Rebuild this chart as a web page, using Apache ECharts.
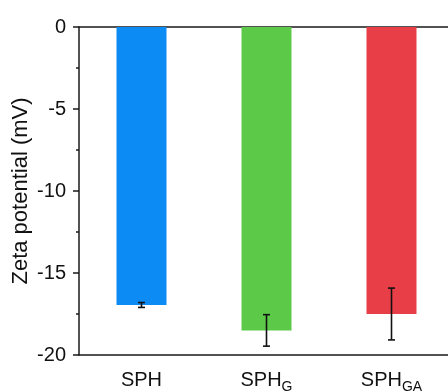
<!DOCTYPE html>
<html>
<head>
<meta charset="utf-8">
<script src="https://cdn.jsdelivr.net/npm/echarts@6/dist/echarts.min.js"></script>
<style>
  html, body { margin: 0; padding: 0; background: #fff; }
  #chart { width: 448px; height: 392px; }
</style>
</head>
<body>
<div id="chart"></div>
<script>
// Zeta potential of the three samples (mV), mean and standard deviation
var categories = ['SPH', 'SPH_G', 'SPH_GA'];
var zetaMean = [-16.95, -18.5, -17.5];
var zetaSD = [0.15, 0.96, 1.58];
var barColors = ['#0D8BF4', '#5CC948', '#E83E48'];
var yTicks = [0, -5, -10, -15, -20];

var FONT = '"Liberation Sans", Arial, sans-serif';

var chart = echarts.init(document.getElementById('chart'));

// "SPH_G" -> SPH with subscript G
function labelFor(name) {
  var parts = name.split('_');
  if (parts.length === 1) return '{n|' + parts[0] + '}';
  return '{n|' + parts[0] + '}{s|' + parts[1] + '}';
}

var errorData = categories.map(function (c, i) {
  return [i, zetaMean[i] - zetaSD[i], zetaMean[i] + zetaSD[i]];
});

chart.setOption({
  animation: false,
  grid: { left: 79, top: 27, bottom: 37, right: -6, containLabel: false, outerBoundsMode: 'none' },
  xAxis: [{
    type: 'category',
    data: categories,
    position: 'bottom',
    axisLine: { onZero: false, lineStyle: { color: '#1a1a1a', width: 1.5 } },
    axisTick: { alignWithLabel: true, length: 5, lineStyle: { color: '#1a1a1a', width: 1.5 } },
    axisLabel: {
      margin: 15,
      formatter: labelFor,
      rich: {
        n: { fontFamily: FONT, fontSize: 20, color: '#111', lineHeight: 22, verticalAlign: 'top' },
        s: { fontFamily: FONT, fontSize: 14, color: '#111', lineHeight: 22, verticalAlign: 'top', padding: [10, 0, 0, 0] }
      }
    }
  }, {
    type: 'category',
    data: categories,
    position: 'top',
    axisLine: { onZero: false, lineStyle: { color: '#1a1a1a', width: 1.5 } },
    axisTick: { show: false },
    axisLabel: { show: false }
  }],
  yAxis: {
    type: 'value',
    min: -20,
    max: 0,
    interval: 5,
    name: 'Zeta potential (mV)',
    nameLocation: 'middle',
    nameGap: 47,
    nameMoveOverlap: false,
    nameTextStyle: { fontFamily: FONT, fontSize: 22, color: '#111' },
    axisLine: { show: true, lineStyle: { color: '#1a1a1a', width: 1.5 } },
    axisTick: { show: true, length: 6, lineStyle: { color: '#1a1a1a', width: 1.5 } },
    minorTick: { show: true, splitNumber: 2, length: 3, lineStyle: { color: '#1a1a1a', width: 1.5 } },
    splitLine: { show: false },
    axisLabel: {
      fontFamily: FONT, fontSize: 20, color: '#111', margin: 13,
      formatter: function (v) { return yTicks.indexOf(v) >= 0 ? String(v) : ''; }
    }
  },
  series: [{
    type: 'bar',
    data: zetaMean.map(function (v, i) {
      return { value: v, itemStyle: { color: barColors[i] } };
    }),
    barWidth: '40%'
  }, {
    type: 'custom',
    data: errorData,
    z: 10,
    renderItem: function (params, api) {
      var x = api.value(0);
      var lo = api.coord([x, api.value(1)]);
      var hi = api.coord([x, api.value(2)]);
      var half = 3.5;
      var style = { stroke: '#111', lineWidth: 1.6 };
      return {
        type: 'group',
        children: [
          { type: 'line', shape: { x1: lo[0], y1: lo[1], x2: hi[0], y2: hi[1] }, style: style },
          { type: 'line', shape: { x1: lo[0] - half, y1: lo[1], x2: lo[0] + half, y2: lo[1] }, style: style },
          { type: 'line', shape: { x1: hi[0] - half, y1: hi[1], x2: hi[0] + half, y2: hi[1] }, style: style }
        ]
      };
    }
  }]
});
</script>
</body>
</html>
